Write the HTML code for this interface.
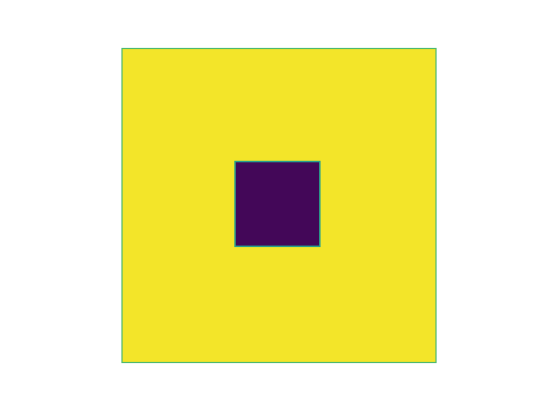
<!DOCTYPE html>
<html><head><meta charset="utf-8">
<style>html,body{margin:0;padding:0;background:#fff;width:544px;height:408px;overflow:hidden;font-family:"Liberation Sans",sans-serif}</style>
</head><body>
<svg id="chart" width="544" height="408" xmlns="http://www.w3.org/2000/svg"></svg>
<script>
// grid of 100 x 100 cells; value ranges 0..1 mapped to viridis
const gridSize = 100;
const backgroundValue = [0.985];
const squareRows = [36, 62];   // inclusive cell range
const squareCols = [36, 62];
const squareValue = [0.02];
const edgeValue = [0.68];

const x0 = 122, y0 = 48.5, size = 314;
const cell = size / gridSize;
const xPos = c => x0 + c * cell;
const yPos = r => y0 + r * cell;
function viridis(v){
  const stops=[[0,[68,1,84]],[0.25,[59,82,139]],[0.5,[33,145,140]],[0.75,[94,201,98]],[1,[253,231,37]]];
  for(let i=1;i<stops.length;i++){if(v<=stops[i][0]){const a=stops[i-1],b=stops[i];const t=(v-a[0])/(b[0]-a[0]);
    return 'rgb('+a[1].map((c,k)=>Math.round(c+(b[1][k]-c)*t)).join(',')+')';}}
  return 'rgb(253,231,37)';
}
const svg=document.getElementById('chart');
const NS='http://www.w3.org/2000/svg';
const bg=document.createElementNS(NS,'rect');


bg.setAttribute('x',xPos(0));bg.setAttribute('y',yPos(0));
bg.setAttribute('width',size);bg.setAttribute('height',size);
bg.setAttribute('fill',viridis(backgroundValue[0]));
bg.setAttribute('stroke',viridis(edgeValue[0]));bg.setAttribute('stroke-width','1.2');
svg.appendChild(bg);
const sq=document.createElementNS(NS,'rect');


sq.setAttribute('x',xPos(squareCols[0]));sq.setAttribute('y',yPos(squareRows[0]));
sq.setAttribute('width',xPos(squareCols[1]+1)-xPos(squareCols[0]));
sq.setAttribute('height',yPos(squareRows[1]+1)-yPos(squareRows[0]));
sq.setAttribute('fill',viridis(squareValue[0]));
sq.setAttribute('stroke','rgb(40,160,140)');sq.setAttribute('stroke-width','1.5');
svg.appendChild(sq);
</script>
</body></html>
